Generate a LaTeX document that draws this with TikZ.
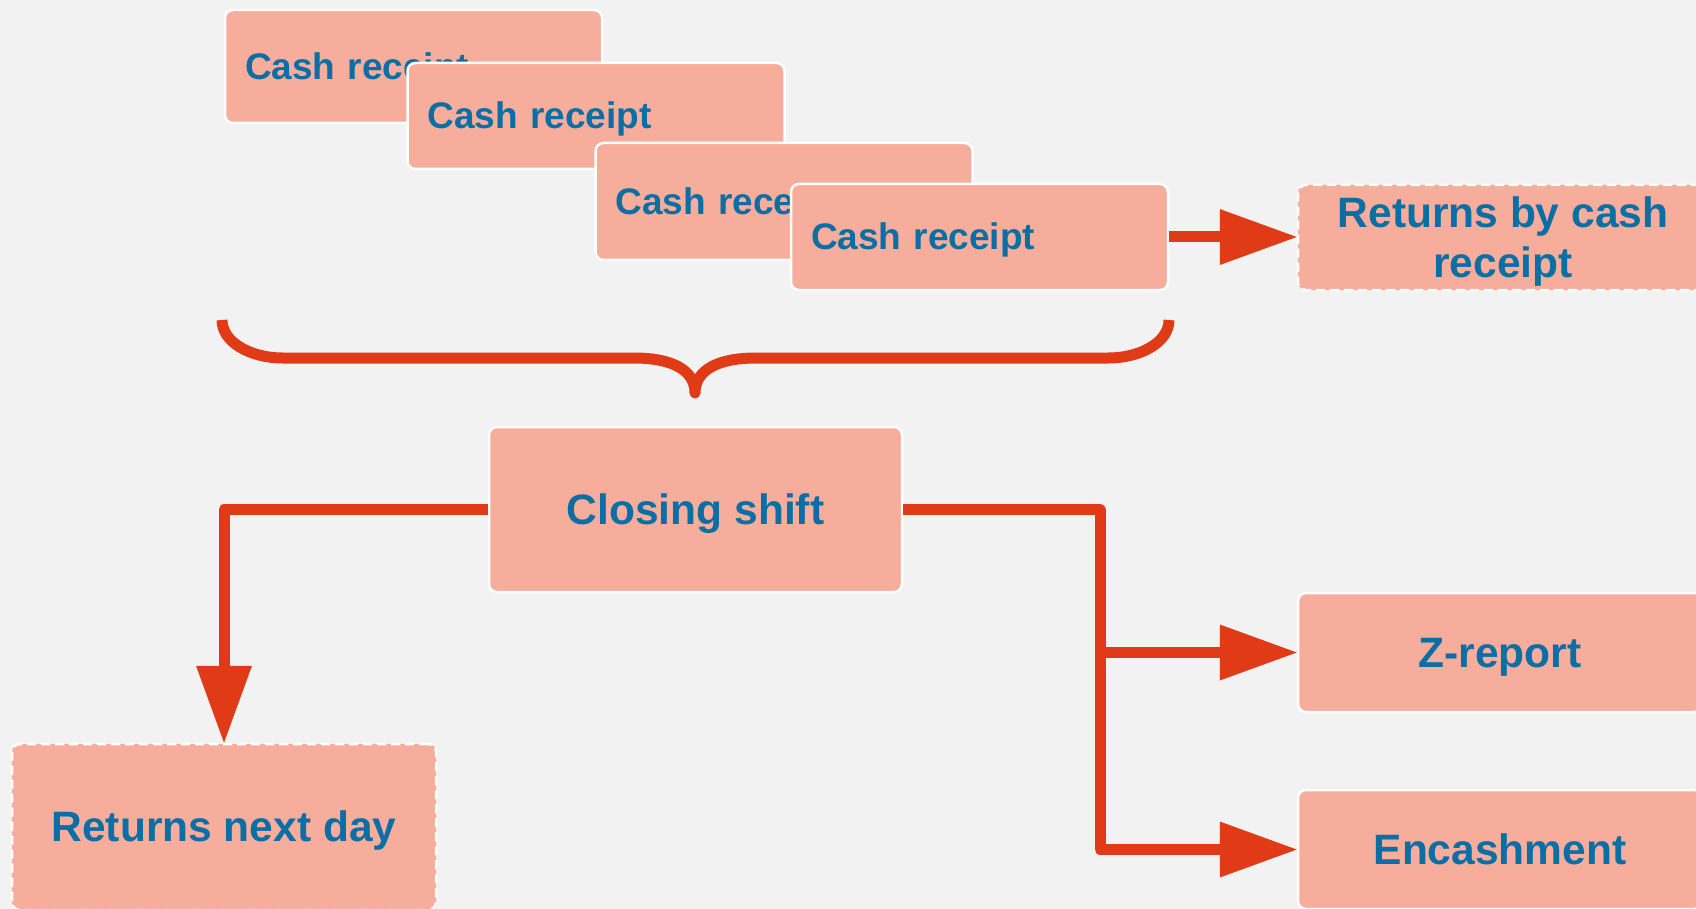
\documentclass[tikz,border=0pt]{standalone}
\usepackage{fontspec}
\setmainfont{Liberation Sans}
\usetikzlibrary{arrows.meta}
\definecolor{bgc}{HTML}{F2F2F2}
\definecolor{boxc}{HTML}{F6AD9C}
\definecolor{txtc}{HTML}{0B6EA4}
\definecolor{linec}{HTML}{E13A16}
\begin{document}
\begin{tikzpicture}[x=1pt,y=-1pt,
  box/.style={draw=white, line width=2.5pt, fill=boxc, rounded corners=8pt, text=txtc,
    font=\bfseries\fontsize{42.5}{50}\selectfont, inner sep=0pt, align=center,
    text height=38.5pt, text depth=9pt},
  dbox/.style={box, dash pattern=on 9pt off 5pt},
  cashbox/.style={box, font=\bfseries\fontsize{37}{44}\selectfont, align=left,
    inner xsep=20pt, text width=337pt, minimum width=377pt,
    text height=33.5pt, text depth=7.8pt},
  conn/.style={draw=linec, line width=11pt, line join=round,
    -{Triangle[length=77pt,width=56pt,line width=0pt]}},
  bracestyle/.style={draw=linec, line width=11pt, line join=round}]
\useasboundingbox (0,0) rectangle (1696,909);
\fill[bgc] (0,0) rectangle (1696,909);
% stacked cash receipts
\node[cashbox, minimum height=113pt] (c1) at (413.5,66.5) {Cash receipt};
\node[cashbox, minimum height=106pt] (c2) at (596,116) {Cash receipt};
\node[cashbox, minimum height=117pt] (c3) at (784,201.5) {Cash receipt};
\node[cashbox, minimum height=106pt] (c4) at (979.5,237) {Cash receipt};
% outcome boxes
\node[dbox, minimum width=410pt, minimum height=105pt, text height=88.5pt, text depth=9pt] (rbc) at (1503,237.5) {Returns by cash\\receipt};
\node[box, minimum width=413pt, minimum height=165pt] (close) at (695.5,509.5) {Closing shift};
\node[dbox, minimum width=424pt, minimum height=166pt] (rnd) at (224,827) {Returns next day};
\node[box, minimum width=404pt, minimum height=119pt] (zrep) at (1500,652.5) {Z-report};
\node[box, minimum width=404pt, minimum height=119pt] (enc) at (1500,849.5) {Encashment};
% brace
\draw[bracestyle] (222,320) .. controls (222,342) and (250,358) .. (283,358) -- (634,358)
  .. controls (672,358) and (695,370) .. (695,393)
  .. controls (695,370) and (718,358) .. (756,358) -- (1108,358)
  .. controls (1141,358) and (1169,342) .. (1169,320);
% connectors
\coordinate (bus) at (1100,509.5);
\draw[conn] (c4.east) -- (c4.east -| rbc.west);
\draw[conn] (close.west) -| (rnd.north);
\draw[conn] (close.east) -- (bus) |- (enc.west);
\draw[conn] (bus |- zrep.west) -- (zrep.west);
\end{tikzpicture}
\end{document}
